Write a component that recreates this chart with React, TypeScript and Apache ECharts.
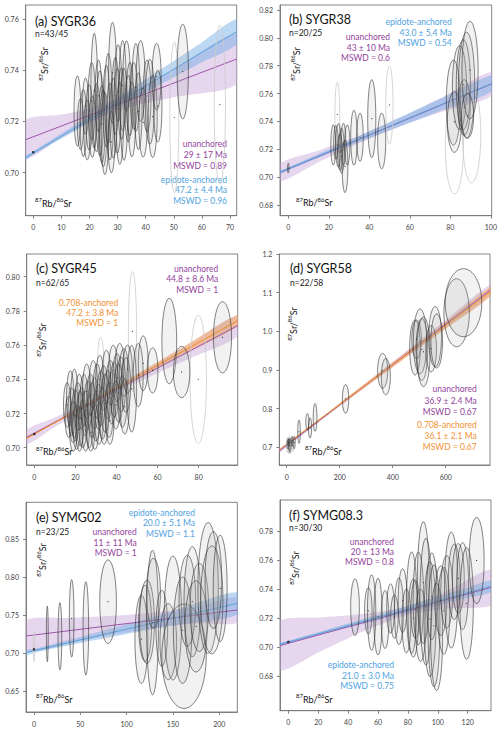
import React, { useEffect, useRef } from 'react';
import * as echarts from 'echarts';

// ---------- DATA (ellipse rows: [x, y, halfWidthX, halfHeightY]) ----------
const aXTicks = [0, 10, 20, 30, 40, 50, 60, 70];
const aYTicks = [0.7, 0.72, 0.74, 0.76];
const aEllipses = [
  [15.7, 0.7241, 1.2, 0.0137], [16.8, 0.719, 1.1, 0.01], [17.8, 0.7194, 1.2, 0.0131], [18.6, 0.726, 1.1, 0.011],
  [19.2, 0.7167, 1.2, 0.0117], [19.9, 0.7216, 1.2, 0.0128], [20.8, 0.728, 1.3, 0.015], [21.0, 0.718, 1.2, 0.012],
  [21.7, 0.732, 1.2, 0.0225], [22.5, 0.7215, 1.3, 0.0133], [23.2, 0.73, 1.2, 0.014], [23.7, 0.7232, 1.3, 0.0166],
  [24.4, 0.719, 1.2, 0.015], [24.9, 0.7173, 1.3, 0.015], [25.5, 0.7153, 1.3, 0.016], [26.0, 0.726, 1.2, 0.016],
  [26.7, 0.729, 1.3, 0.0176], [27.3, 0.72, 1.2, 0.015], [27.8, 0.712, 1.2, 0.012], [28.2, 0.739, 1.4, 0.0197],
  [28.5, 0.7213, 1.3, 0.0156], [29.2, 0.73, 1.2, 0.015], [29.9, 0.7242, 1.3, 0.0166], [30.2, 0.735, 1.2, 0.015],
  [30.8, 0.7193, 1.3, 0.016], [31.4, 0.727, 1.2, 0.014], [31.8, 0.734, 1.3, 0.0176], [32.3, 0.7228, 1.3, 0.018],
  [33.2, 0.7378, 1.3, 0.0137], [33.8, 0.725, 1.2, 0.013], [34.4, 0.7288, 1.3, 0.0143], [35.1, 0.7208, 1.3, 0.0146],
  [35.8, 0.73, 1.3, 0.013], [36.5, 0.7333, 1.4, 0.0172], [37.4, 0.724, 1.3, 0.015], [38.2, 0.7358, 1.6, 0.0158],
  [39.1, 0.7196, 1.5, 0.0135], [40.5, 0.73, 1.4, 0.014], [41.5, 0.7277, 1.6, 0.0166], [42.5, 0.7219, 1.6, 0.016],
  [43.9, 0.7375, 1.6, 0.013], [44.3, 0.726, 1.5, 0.014], [53.2, 0.7395, 2.0, 0.0185],
];
const aRejected = [[50.2, 0.7216, 1.6, 0.0295], [66.4, 0.7266, 2.0, 0.031]];
const aAnchor = [[0, 0.708]];
const aUnBandX = [-2.7, 10, 22, 35, 50, 72.4];
const aUnBandLo = [0.7054, 0.7137, 0.7207, 0.7259, 0.7295, 0.7346];
const aUnBandHi = [0.7204, 0.7227, 0.7257, 0.7315, 0.7405, 0.7542];
const aUnLine = [[-2.7, 0.7129], [72.4, 0.7444]];
const aEpBandX = [-2.7, 0, 20, 40, 60, 72.4];
const aEpBandLo = [0.7051, 0.7071, 0.7194, 0.7313, 0.7431, 0.7503];
const aEpBandHi = [0.7067, 0.7083, 0.7222, 0.7365, 0.7509, 0.7599];
const aEpLine = [[-2.7, 0.7059], [72.4, 0.7551]];

const bXTicks = [0, 20, 40, 60, 80, 100];
const bYTicks = [0.68, 0.7, 0.72, 0.74, 0.76, 0.78, 0.8, 0.82];
const bEllipses = [
  [0, 0.7065, 0.4, 0.0035],
  [22.2, 0.7231, 1.2, 0.0144], [23.5, 0.725, 1.1, 0.012], [24.7, 0.7229, 1.3, 0.0156], [25.5, 0.718, 1.2, 0.013],
  [26.3, 0.719, 1.3, 0.0162], [27.2, 0.7237, 1.2, 0.015], [28.0, 0.7078, 1.4, 0.0189], [29.1, 0.7231, 1.3, 0.0144],
  [32.4, 0.7283, 1.6, 0.0197], [35.4, 0.7286, 1.6, 0.0173], [41.2, 0.742, 2.0, 0.028], [46.1, 0.726, 2.0, 0.02],
  [81.5, 0.7535, 3.5, 0.0305], [82.0, 0.7396, 3.5, 0.0218], [84.5, 0.7643, 3.5, 0.03], [86.4, 0.7664, 3.5, 0.0323],
  [86.8, 0.75, 3.0, 0.02], [88.0, 0.766, 4.0, 0.038], [89.7, 0.7769, 4.0, 0.035], [88.5, 0.744, 3.0, 0.016],
];
const bRejected = [[24.2, 0.745, 1.2, 0.023], [49.9, 0.7518, 1.8, 0.028], [82.0, 0.723, 4.5, 0.035], [90.5, 0.7305, 4.5, 0.0345], [26.5, 0.715, 1.2, 0.01]];
const bUnBandX = [-4.1, 15, 35, 55, 75, 100.4];
const bUnBandLo = [0.6968, 0.7108, 0.7245, 0.7364, 0.7466, 0.7585];
const bUnBandHi = [0.7098, 0.7192, 0.7299, 0.7424, 0.7566, 0.7755];
const bUnLine = [[-4.1, 0.7033], [100.4, 0.767]];
const bEpBandX = [-4.1, 0, 25, 50, 75, 100.4];
const bEpBandLo = [0.7023, 0.705, 0.7196, 0.7335, 0.7474, 0.7614];
const bEpBandHi = [0.7047, 0.707, 0.723, 0.7395, 0.7562, 0.773];
const bEpLine = [[-4.1, 0.7035], [100.4, 0.7672]];

const cXTicks = [0, 20, 40, 60, 80];
const cYTicks = [0.7, 0.72, 0.74, 0.76, 0.78, 0.8];
const cEllipses = [
  [16.0, 0.725, 1.8, 0.013], [16.8, 0.718, 1.8, 0.012], [17.5, 0.729, 1.8, 0.016], [18.2, 0.721, 1.8, 0.014],
  [18.9, 0.715, 1.8, 0.012], [19.0, 0.709, 1.8, 0.011], [19.5, 0.726, 1.9, 0.02], [20.0, 0.719, 1.8, 0.015],
  [20.6, 0.712, 1.8, 0.013], [21.3, 0.724, 1.9, 0.014], [21.9, 0.73, 1.8, 0.013], [22.0, 0.711, 1.8, 0.013],
  [22.4, 0.717, 1.9, 0.016], [23.0, 0.723, 1.8, 0.012], [23.6, 0.714, 1.9, 0.014], [24.2, 0.728, 1.9, 0.015],
  [24.8, 0.72, 1.8, 0.013], [25.0, 0.71, 1.8, 0.012], [25.5, 0.733, 2.0, 0.016], [26.1, 0.725, 1.9, 0.014],
  [26.8, 0.715, 1.9, 0.015], [27.4, 0.731, 1.9, 0.012], [27.5, 0.709, 1.9, 0.011], [28.0, 0.722, 2.0, 0.016],
  [28.7, 0.737, 2.0, 0.014], [29.3, 0.726, 2.0, 0.015], [29.5, 0.712, 1.9, 0.013], [30.0, 0.718, 2.0, 0.014],
  [30.6, 0.733, 2.0, 0.016], [31.2, 0.724, 2.0, 0.013], [31.5, 0.714, 2.0, 0.012], [31.9, 0.74, 2.0, 0.014],
  [32.5, 0.729, 2.1, 0.016], [33.2, 0.72, 2.0, 0.015], [33.8, 0.735, 2.0, 0.013], [34.0, 0.715, 2.0, 0.013],
  [34.5, 0.726, 2.1, 0.017], [35.1, 0.742, 2.1, 0.015], [35.8, 0.731, 2.1, 0.014], [36.4, 0.722, 2.1, 0.016],
  [36.8, 0.716, 2.0, 0.014], [37.1, 0.738, 2.1, 0.013], [37.7, 0.729, 2.1, 0.015], [38.4, 0.745, 2.2, 0.015],
  [39.0, 0.734, 2.2, 0.016], [39.7, 0.725, 2.1, 0.014], [40.3, 0.741, 2.2, 0.014], [41.0, 0.732, 2.2, 0.017],
  [41.6, 0.748, 2.2, 0.013], [42.3, 0.737, 2.2, 0.016], [42.9, 0.727, 2.2, 0.015], [43.6, 0.744, 2.2, 0.014],
  [44.0, 0.724, 2.2, 0.016], [44.6, 0.7367, 2.3, 0.016], [45.4, 0.746, 2.3, 0.014], [47.4, 0.7345, 2.4, 0.0253],
  [50.6, 0.7425, 2.4, 0.0185], [53.0, 0.7494, 2.4, 0.016], [57.6, 0.7452, 2.6, 0.0132], [65.7, 0.7624, 3.6, 0.025],
  [71.7, 0.7443, 4.0, 0.015], [91.6, 0.7646, 4.4, 0.0208],
];
const cRejected = [[32.3, 0.75, 1.5, 0.0146], [47.8, 0.768, 2.0, 0.035], [79.8, 0.74, 4.0, 0.0375]];
const cAnchor = [[0, 0.708]];
const cUnBandX = [-3.7, 10, 30, 50, 75, 99];
const cUnBandLo = [0.702, 0.7121, 0.7262, 0.7381, 0.7519, 0.7652];
const cUnBandHi = [0.7104, 0.7177, 0.729, 0.7425, 0.7603, 0.7776];
const cUnLine = [[-3.7, 0.7062], [99, 0.7714]];
const cOrBandX = [-3.7, 0, 25, 50, 75, 99];
const cOrBandLo = [0.7049, 0.7076, 0.7239, 0.7398, 0.7558, 0.771];
const cOrBandHi = [0.7061, 0.7084, 0.7257, 0.7432, 0.7608, 0.7776];
const cOrLine = [[-3.7, 0.7055], [99, 0.7743]];

const dXTicks = [0, 200, 400, 600];
const dYTicks = [0.7, 0.8, 0.9, 1.0, 1.1, 1.2];
const dEllipses = [
  [5, 0.708, 4, 0.012], [8, 0.712, 3, 0.01], [12, 0.705, 4, 0.018], [20, 0.716, 3, 0.012], [28, 0.712, 4, 0.016],
  [46.5, 0.74, 5, 0.03], [78, 0.766, 6, 0.021], [88, 0.75, 6, 0.026], [107, 0.777, 7, 0.036],
  [222, 0.825, 12, 0.037], [362, 0.8977, 19, 0.045], [374, 0.8826, 17, 0.047],
  [484, 0.958, 20, 0.071], [490, 0.979, 18, 0.05], [503, 0.974, 25, 0.084], [510, 0.953, 22, 0.08],
  [516, 0.947, 25, 0.09], [545, 0.955, 20, 0.06], [560, 0.986, 24, 0.078], [566, 0.975, 22, 0.07],
  [641, 1.048, 48, 0.088], [667, 1.074, 69, 0.088],
];
const dRejected = [
  [2, 0.706, 3, 0.018], [6, 0.7, 3, 0.015], [10, 0.712, 3, 0.016], [14, 0.703, 3, 0.02],
  [18, 0.709, 3, 0.014], [4, 0.714, 3, 0.012], [24, 0.703, 3, 0.015], [9, 0.695, 3, 0.012],
];
const dUnBandX = [-28, 0, 200, 400, 600, 767];
const dUnBandLo = [0.685, 0.7, 0.8053, 0.9071, 1.0079, 1.0924];
const dUnBandHi = [0.695, 0.709, 0.8133, 0.9211, 1.0299, 1.1204];
const dUnLine = [[-28, 0.69], [767, 1.1064]];
const dOrBandX = [-28, 0, 200, 400, 600, 767];
const dOrBandLo = [0.6926, 0.7075, 0.8071, 0.9067, 1.0063, 1.0895];
const dOrBandHi = [0.6946, 0.7085, 0.8141, 0.9197, 1.0253, 1.1135];
const dOrLine = [[-28, 0.6936], [767, 1.1015]];

const eXTicks = [0, 50, 100, 150, 200];
const eYTicks = [0.65, 0.7, 0.75, 0.8, 0.85];
const eEllipses = [
  [14.4, 0.7252, 1.0, 0.0366], [28.0, 0.7219, 2.0, 0.0443], [40.7, 0.7456, 2.5, 0.051], [56.0, 0.7325, 3.0, 0.0614],
  [80.0, 0.7675, 9.0, 0.055], [116, 0.718, 7, 0.058], [120, 0.739, 7, 0.05], [122, 0.741, 8, 0.055],
  [128, 0.74, 6.5, 0.095], [129, 0.7786, 7.5, 0.046], [138, 0.7325, 6.3, 0.05], [145, 0.715, 9, 0.05],
  [150, 0.746, 9.5, 0.0816], [162, 0.6958, 24, 0.0687], [160.5, 0.73, 10, 0.07], [165.6, 0.7687, 9, 0.06],
  [171, 0.7676, 9, 0.0724], [175, 0.735, 12, 0.06], [178.5, 0.76, 10, 0.058], [188, 0.7856, 11, 0.086],
  [192, 0.77, 12, 0.071], [193.7, 0.796, 9, 0.0636], [201, 0.785, 7.5, 0.07],
];
const eRejected = [[0, 0.7085, 0.8, 0.02]];
const eAnchor = [[0, 0.7048]];
const eUnBandX = [-8.6, 40, 90, 140, 180, 219.5];
const eUnBandLo = [0.7019, 0.7132, 0.7252, 0.7347, 0.7392, 0.7401];
const eUnBandHi = [0.7429, 0.7462, 0.7492, 0.7547, 0.7622, 0.7731];
const eUnLine = [[-8.6, 0.7224], [219.5, 0.7566]];
const eEpBandX = [-8.6, 0, 50, 100, 150, 219.5];
const eEpBandLo = [0.6976, 0.7005, 0.7132, 0.7249, 0.7361, 0.7508];
const eEpBandHi = [0.7036, 0.7055, 0.7212, 0.7379, 0.7551, 0.7798];
const eEpLine = [[-8.6, 0.7006], [219.5, 0.7653]];

const fXTicks = [0, 20, 40, 60, 80, 100, 120];
const fYTicks = [0.68, 0.7, 0.72, 0.74, 0.76, 0.78];
const fEllipses = [
  [44.6, 0.7275, 2.9, 0.0195], [53.5, 0.725, 2.5, 0.016], [55.7, 0.7238, 2.8, 0.026], [60.0, 0.721, 2.8, 0.0264],
  [64.7, 0.719, 2.6, 0.02], [68.4, 0.7266, 2.6, 0.017], [71.0, 0.721, 2.5, 0.015], [74.0, 0.7247, 3.0, 0.023],
  [76.5, 0.732, 3.0, 0.022], [79.0, 0.718, 3.0, 0.022], [82.5, 0.7306, 3.5, 0.035], [83.6, 0.72, 3.5, 0.027],
  [85.0, 0.726, 3.0, 0.02], [87.0, 0.7335, 3.5, 0.032], [88.5, 0.715, 3.5, 0.025], [90.3, 0.7444, 4.0, 0.042],
  [92.0, 0.7313, 4.0, 0.0437], [94.8, 0.7192, 4.0, 0.0397], [96.0, 0.735, 3.5, 0.03], [97.4, 0.7146, 4.0, 0.042],
  [99.2, 0.707, 4.0, 0.037], [102.0, 0.732, 4.0, 0.024], [104.0, 0.725, 4.0, 0.03], [106.0, 0.738, 4.0, 0.025],
  [109.0, 0.7393, 4.5, 0.04], [111.0, 0.745, 4.0, 0.026], [113.7, 0.7473, 4.0, 0.024], [116.6, 0.742, 4.0, 0.03],
  [119.3, 0.7301, 4.5, 0.0385], [126.0, 0.7597, 5.0, 0.0297],
];
const fAnchor = [[0, 0.7035]];
const fUnBandX = [-5.6, 20, 50, 80, 110, 135.6];
const fUnBandLo = [0.6843, 0.6963, 0.7108, 0.7223, 0.7268, 0.7291];
const fUnBandHi = [0.7177, 0.7203, 0.7228, 0.7283, 0.7408, 0.7531];
const fUnLine = [[-5.6, 0.701], [135.6, 0.7411]];
const fEpBandX = [-5.6, 0, 40, 80, 120, 135.6];
const fEpBandLo = [0.701, 0.7027, 0.7134, 0.7237, 0.734, 0.7379];
const fEpBandHi = [0.7028, 0.7043, 0.7162, 0.7285, 0.741, 0.7459];
const fEpLine = [[-5.6, 0.7019], [135.6, 0.7419]];

// ---------- STYLE ----------
const FONT = 'Lato, "Open Sans", sans-serif';
const PURPLE = { line: '#9d56aa', band: 'rgba(196,160,214,0.42)', text: '#93439c' };
const BLUE = { line: '#5aa3dc', band: 'rgba(108,168,226,0.45)', text: '#4fa2df' };
const ORANGE = { line: '#f08a26', band: 'rgba(246,158,76,0.50)', text: '#f39232' };

const PANELS: any[] = [
  {
    grid: { left: 25.7, top: 5, width: 211, height: 210.7 }, xr: [-2.7, 72.4], yr: [0.6832, 0.7655],
    xt: aXTicks, yt: aYTicks, yDec: 2, ell: aEllipses, rej: aRejected, anchors: aAnchor,
    regs: [
      { x: aUnBandX, lo: aUnBandLo, hi: aUnBandHi, line: aUnLine, c: PURPLE },
      { x: aEpBandX, lo: aEpBandLo, hi: aEpBandHi, line: aEpLine, c: BLUE },
    ],
    title: ['(a) SYGR36', 35, 21], n: ['n=43/45', 35, 34], ylab: [43, 64], xlab: [35, 202],
    notes: [
      { x: 227, ys: [144, 155, 165.7], lines: ['unanchored', '29 ± 17 Ma', 'MSWD = 0.89'], c: PURPLE },
      { x: 227, ys: [180, 190.3, 201], lines: ['epidote-anchored', '47.2 ± 4.4 Ma', 'MSWD = 0.96'], c: BLUE },
    ],
  },
  {
    grid: { left: 280, top: 5, width: 211.7, height: 210.7 }, xr: [-4.1, 100.4], yr: [0.6723, 0.8236],
    xt: bXTicks, yt: bYTicks, yDec: 2, ell: bEllipses, rej: bRejected, anchors: [],
    regs: [
      { x: bUnBandX, lo: bUnBandLo, hi: bUnBandHi, line: bUnLine, c: PURPLE },
      { x: bEpBandX, lo: bEpBandLo, hi: bEpBandHi, line: bEpLine, c: BLUE },
    ],
    title: ['(b) SYGR38', 289, 19], n: ['n=20/25', 289, 33], ylab: [295, 64], xlab: [296, 201.7],
    notes: [
      { x: 451.7, ys: [21.7, 32.7, 42.7], lines: ['epidote-anchored', '43.0 ± 5.4 Ma', 'MSWD = 0.54'], c: BLUE },
      { x: 390, ys: [37.3, 47.7, 58.3], lines: ['unanchored', '43 ± 10 Ma', 'MSWD = 0.6'], c: PURPLE },
    ],
  },
  {
    grid: { left: 26.7, top: 254, width: 211, height: 211 }, xr: [-3.7, 99], yr: [0.6899, 0.8133],
    xt: cXTicks, yt: cYTicks, yDec: 2, ell: cEllipses, rej: cRejected, anchors: cAnchor,
    regs: [
      { x: cUnBandX, lo: cUnBandLo, hi: cUnBandHi, line: cUnLine, c: PURPLE },
      { x: cOrBandX, lo: cOrBandLo, hi: cOrBandHi, line: cOrLine, c: ORANGE },
    ],
    title: ['(c) SYGR45', 36, 268.3], n: ['n=62/65', 36, 282.7], ylab: [41, 340], xlab: [36, 450.7],
    notes: [
      { x: 218.3, ys: [269.3, 279.3, 290], lines: ['unanchored', '44.8 ± 8.6 Ma', 'MSWD = 1'], c: PURPLE },
      { x: 118.3, ys: [303.3, 313.3, 323.3], lines: ['0.708-anchored', '47.2 ± 3.8 Ma', 'MSWD = 1'], c: ORANGE },
    ],
  },
  {
    grid: { left: 279.3, top: 254, width: 210.7, height: 211 }, xr: [-28, 767], yr: [0.654, 1.2],
    xt: dXTicks, yt: dYTicks, yDec: 1, ell: dEllipses, rej: dRejected, anchors: [],
    regs: [
      { x: dUnBandX, lo: dUnBandLo, hi: dUnBandHi, line: dUnLine, c: PURPLE },
      { x: dOrBandX, lo: dOrBandLo, hi: dOrBandHi, line: dOrLine, c: ORANGE },
    ],
    title: ['(d) SYGR58', 290, 268.3], n: ['n=22/58', 290, 282.7], ylab: [292, 324], xlab: [305, 450],
    notes: [
      { x: 476.7, ys: [389.3, 400.7, 411.7], lines: ['unanchored', '36.9 ± 2.4 Ma', 'MSWD = 0.67'], c: PURPLE },
      { x: 476.7, ys: [425.3, 436, 446.7], lines: ['0.708-anchored', '36.1 ± 2.1 Ma', 'MSWD = 0.67'], c: ORANGE },
    ],
  },
  {
    grid: { left: 26, top: 502.3, width: 211.3, height: 209.7 }, xr: [-8.6, 219.5], yr: [0.6224, 0.8983],
    xt: eXTicks, yt: eYTicks, yDec: 2, ell: eEllipses, rej: eRejected, anchors: eAnchor,
    regs: [
      { x: eUnBandX, lo: eUnBandLo, hi: eUnBandHi, line: eUnLine, c: PURPLE },
      { x: eEpBandX, lo: eEpBandLo, hi: eEpBandHi, line: eEpLine, c: BLUE },
    ],
    title: ['(e) SYMG02', 36, 517.3], n: ['n=23/25', 36, 531.7], ylab: [41, 560], xlab: [36, 698],
    notes: [
      { x: 195, ys: [513.3, 523.3, 534], lines: ['epidote-anchored', '20.0 ± 5.1 Ma', 'MSWD = 1.1'], c: BLUE },
      { x: 136.7, ys: [532.3, 542.7, 552.7], lines: ['unanchored', '11 ± 11 Ma', 'MSWD = 1'], c: PURPLE },
    ],
  },
  {
    grid: { left: 280, top: 500, width: 211, height: 210.7 }, xr: [-5.6, 135.6], yr: [0.6561, 0.8014],
    xt: fXTicks, yt: fYTicks, yDec: 2, ell: fEllipses, rej: [], anchors: fAnchor,
    regs: [
      { x: fUnBandX, lo: fUnBandLo, hi: fUnBandHi, line: fUnLine, c: PURPLE },
      { x: fEpBandX, lo: fEpBandLo, hi: fEpBandHi, line: fEpLine, c: BLUE },
    ],
    title: ['(f) SYMG08.3', 289, 515], n: ['n=30/30', 289, 528.3], ylab: [294, 568], xlab: [296, 698],
    notes: [
      { x: 394, ys: [541.7, 551.7, 561.7], lines: ['unanchored', '20 ± 13 Ma', 'MSWD = 0.8'], c: PURPLE },
      { x: 394, ys: [665, 676, 686], lines: ['epidote-anchored', '21.0 ± 3.0 Ma', 'MSWD = 0.75'], c: BLUE },
    ],
  },
];

function ellipseRenderer(fill: string, stroke: string, lw: number, dot: string | null) {
  return (params: any, api: any) => {
    const cx = api.value(0), cy = api.value(1), rx = api.value(2), ry = api.value(3);
    const pts: number[][] = [];
    for (let k = 0; k < 64; k++) {
      const t = (k / 64) * Math.PI * 2;
      pts.push(api.coord([cx + rx * Math.cos(t), cy + ry * Math.sin(t)]));
    }
    const c = api.coord([cx, cy]);
    const children: any[] = [
      { type: 'polygon', shape: { points: pts }, style: { fill, stroke, lineWidth: lw } },
    ];
    if (dot) children.push({ type: 'circle', shape: { cx: c[0], cy: c[1], r: 0.55 }, style: { fill: dot } });
    return { type: 'group', children };
  };
}

function bandRenderer(xs: number[], lo: number[], hi: number[], fill: string) {
  return (params: any, api: any) => {
    const pts: number[][] = [];
    for (let i = 0; i < xs.length; i++) pts.push(api.coord([xs[i], hi[i]]));
    for (let i = xs.length - 1; i >= 0; i--) pts.push(api.coord([xs[i], lo[i]]));
    return { type: 'polygon', shape: { points: pts, smooth: 0.25 }, style: { fill, stroke: 'none' } };
  };
}

function isoText(x: number, y: number, num: string, rotate: boolean, align: string) {
  return {
    type: 'text', x, y, rotation: rotate ? Math.PI / 2 : 0, silent: true,
    style: {
      text: `{s|87}{n|${num}/}{s|86}{n|Sr}`, align, verticalAlign: 'middle', fill: '#111', fontFamily: FONT,
      rich: {
        n: { fontSize: 9, fontFamily: FONT, fill: '#111', lineHeight: 11, verticalAlign: 'bottom' },
        s: { fontSize: 6, fontFamily: FONT, fill: '#111', lineHeight: 6, verticalAlign: 'top' },
      },
    },
  };
}

function txt(x: number, y: number, text: string, size: number, color: string, align = 'left') {
  return {
    type: 'text', x, y, silent: true,
    style: { text, fill: color, fontSize: size, fontFamily: FONT, align, verticalAlign: 'middle' },
  };
}

function buildOption() {
  const grid: any[] = [], xAxis: any[] = [], yAxis: any[] = [], series: any[] = [], graphic: any[] = [];
  PANELS.forEach((p, i) => {
    grid.push({ ...p.grid, show: true, borderColor: '#777', borderWidth: 0.9, backgroundColor: 'transparent' });
    const axisCommon = {
      type: 'value', gridIndex: i, splitLine: { show: false },
      axisLine: { show: true, onZero: false, lineStyle: { color: '#777', width: 0.9 } },
    };
    xAxis.push({
      ...axisCommon, position: 'bottom', min: p.xr[0], max: p.xr[1],
      axisTick: { show: true, inside: false, length: 3, lineStyle: { color: '#777', width: 0.9 }, customValues: p.xt },
      axisLabel: { customValues: p.xt, fontSize: 7, color: '#444', fontFamily: FONT, margin: 8, formatter: (v: number) => String(Math.round(v)) },
    });
    yAxis.push({
      ...axisCommon, position: 'left', min: p.yr[0], max: p.yr[1],
      axisTick: { show: true, inside: false, length: 3, lineStyle: { color: '#777', width: 0.9 }, customValues: p.yt },
      axisLabel: { customValues: p.yt, fontSize: 7, color: '#444', fontFamily: FONT, margin: 7, formatter: (v: number) => v.toFixed(p.yDec) },
    });
    p.regs.forEach((r: any) => {
      series.push({
        type: 'custom', xAxisIndex: i, yAxisIndex: i, z: 1, silent: true, clip: true,
        data: [[r.x[0], r.lo[0]]], renderItem: bandRenderer(r.x, r.lo, r.hi, r.c.band),
      });
    });
    p.regs.forEach((r: any) => {
      series.push({
        type: 'line', xAxisIndex: i, yAxisIndex: i, z: 2, silent: true, symbol: 'none',
        data: r.line, lineStyle: { color: r.c.line, width: 1 },
      });
    });
    if (p.rej.length) {
      series.push({
        type: 'custom', xAxisIndex: i, yAxisIndex: i, z: 3, silent: true, clip: true,
        data: p.rej, renderItem: ellipseRenderer('none', '#cacaca', 0.8, '#444'),
      });
    }
    series.push({
      type: 'custom', xAxisIndex: i, yAxisIndex: i, z: 4, silent: true, clip: true,
      data: p.ell, renderItem: ellipseRenderer('rgba(160,160,160,0.14)', 'rgba(40,40,40,0.82)', 0.7, '#222'),
    });
    if (p.anchors.length) {
      series.push({
        type: 'scatter', xAxisIndex: i, yAxisIndex: i, z: 5, silent: true,
        data: p.anchors, symbolSize: 2.6, itemStyle: { color: '#111' },
      });
    }
    graphic.push(txt(p.title[1], p.title[2], p.title[0], 12.5, '#111'));
    graphic.push(txt(p.n[1], p.n[2], p.n[0], 8.5, '#222'));
    graphic.push(isoText(p.ylab[0], p.ylab[1], 'Sr', true, 'center'));
    graphic.push(isoText(p.xlab[0], p.xlab[1], 'Rb', false, 'left'));
    p.notes.forEach((nt: any) => {
      nt.lines.forEach((ln: string, k: number) => graphic.push(txt(nt.x, nt.ys[k], ln, 8.5, nt.c.text, 'right')));
    });
  });
  return {
    animation: false, backgroundColor: '#fff', grid, xAxis, yAxis, series,
    graphic: { elements: graphic },
  };
}

export default function App() {
  const ref = useRef<HTMLDivElement>(null);
  useEffect(() => {
    const chart = echarts.init(ref.current as HTMLDivElement, null, { renderer: 'svg' });
    chart.setOption(buildOption() as any);
    return () => chart.dispose();
  }, []);
  return <div ref={ref} style={{ position: 'fixed', left: 0, top: 0, width: 500, height: 733, background: '#fff' }} />;
}
